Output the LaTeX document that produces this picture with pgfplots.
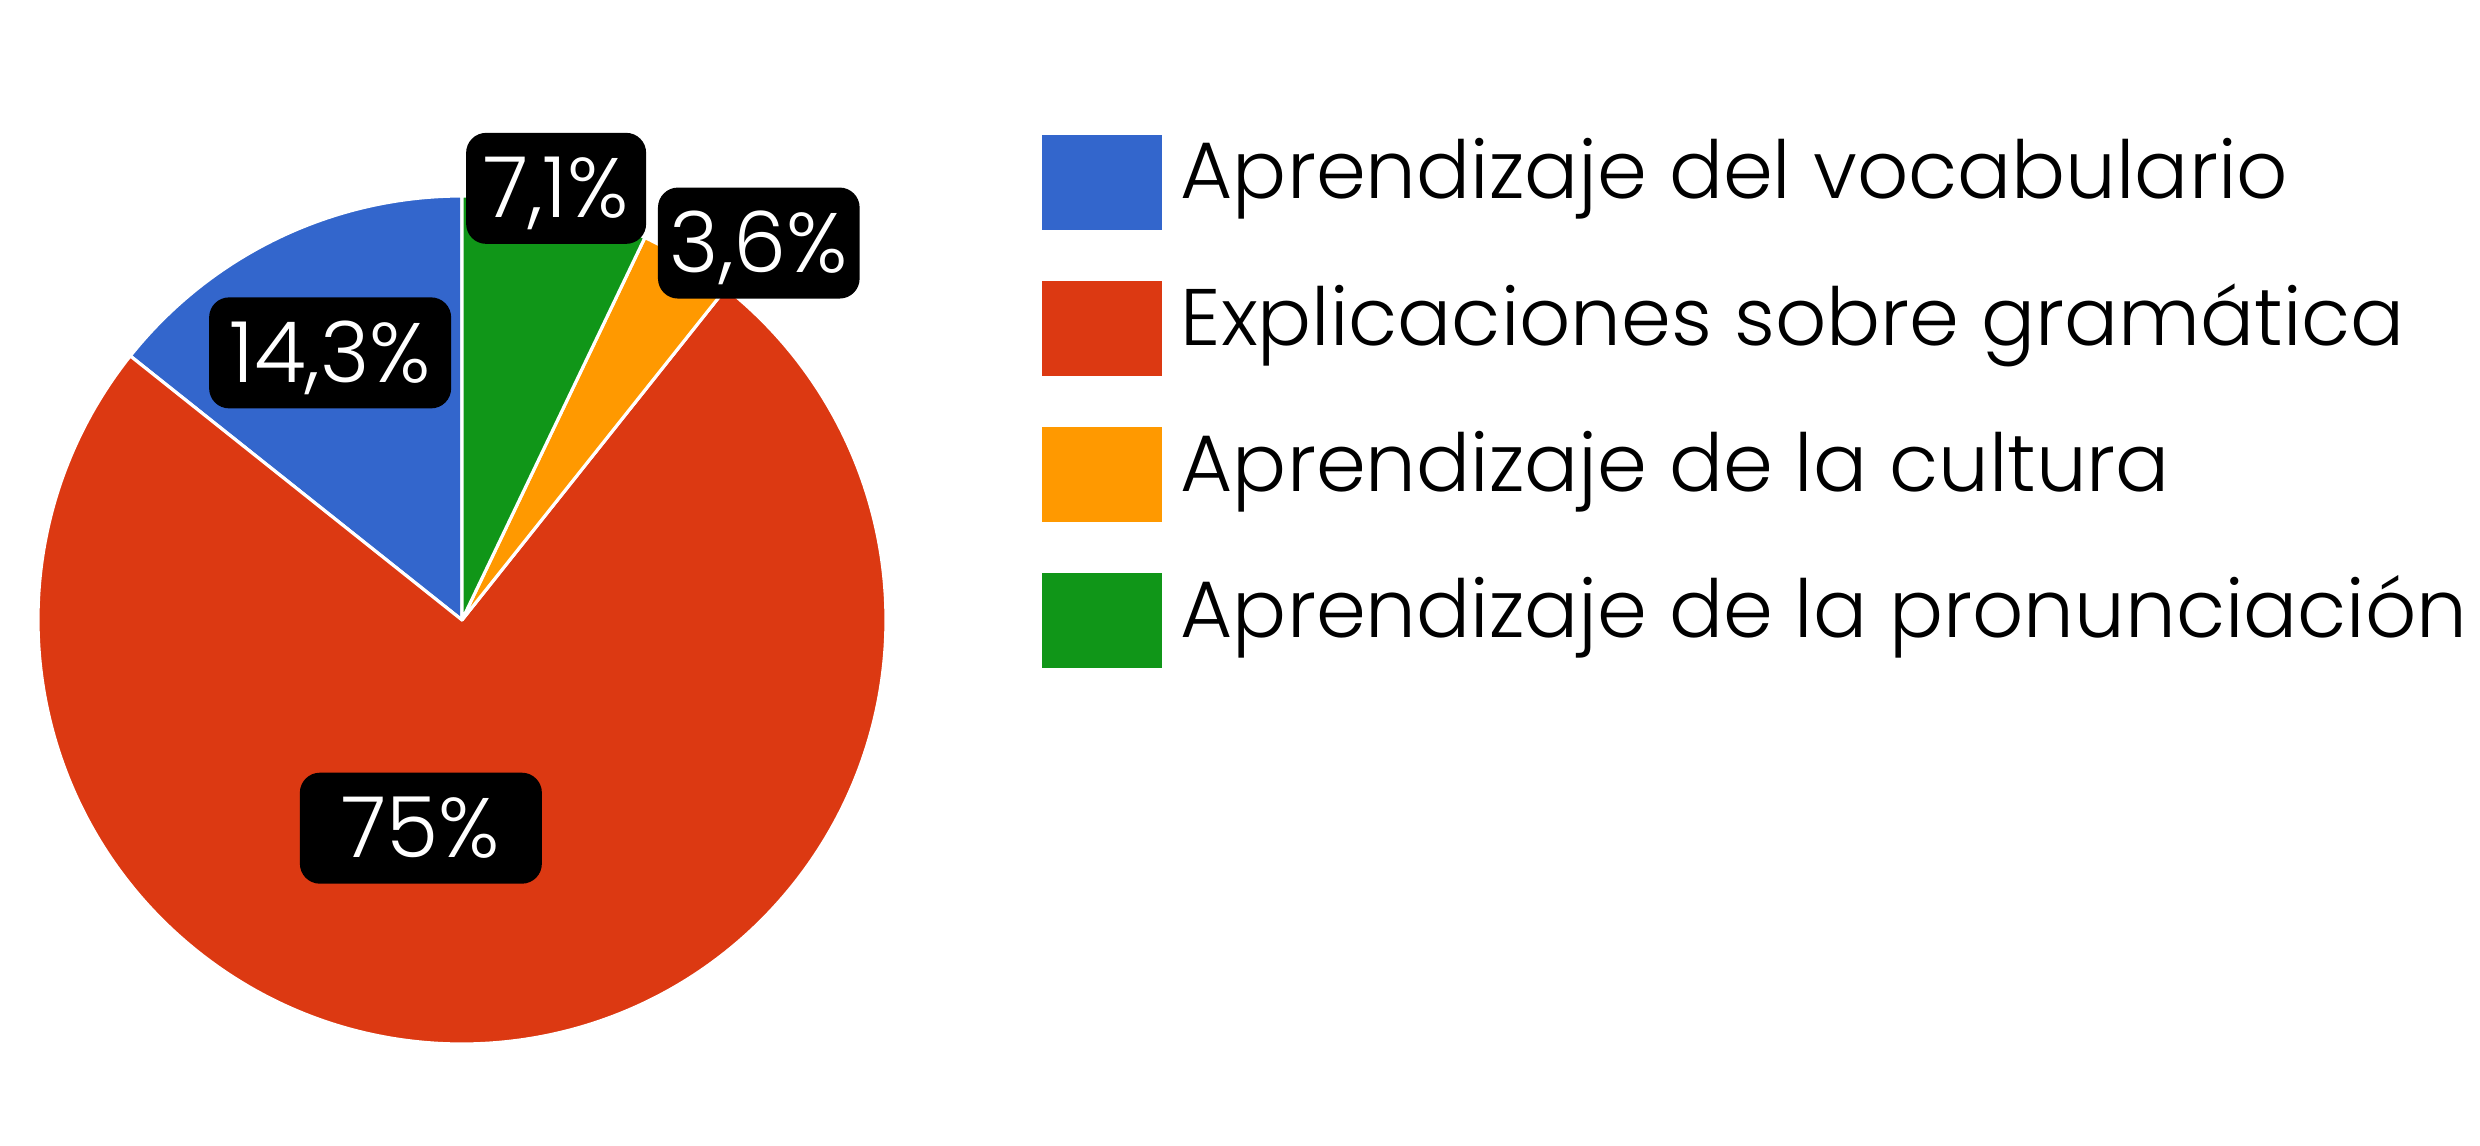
\documentclass[border=0pt]{standalone}
\usepackage{fontspec}
\setmainfont{Poppins}[UprightFont=* Light]
\usepackage{pgfplots}
\usepackage{pgfplotstable}
\pgfplotsset{compat=1.18}

\definecolor{slice0}{HTML}{3366CC}
\definecolor{slice1}{HTML}{DC3912}
\definecolor{slice2}{HTML}{FF9900}
\definecolor{slice3}{HTML}{109618}

\tikzset{lbl/.style={fill=black, text=white, rounded corners=0.2cm,
    minimum height=1.11cm, text height=0.59cm, text depth=0pt,
    font=\fontsize{24pt}{29pt}\selectfont}}

% share (%), label position (axis units), label box width (cm)
\pgfplotstableread{
share lx     ly     bw
14.3  -0.311 0.630  2.42
75    -0.097 -0.491 2.42
3.6   0.700  0.889  1.80
7.1   0.222  1.018  1.80
}\piedata

\begin{document}
\begin{tikzpicture}
\useasboundingbox (0,0) rectangle (24.8,11.45);
\begin{axis}[
    hide axis,
    x=4.24cm, y=4.24cm,
    xmin=-1.2, xmax=1.2, ymin=-1.2, ymax=1.2,
    anchor=center, at={(4.62cm,5.25cm)},
    clip=false,
    /pgf/number format/assume math mode=true,
]
\def\angstart{90}
\pgfplotsforeachungrouped \i in {0,...,3}{%
    \pgfplotstablegetelem{\i}{share}\of\piedata \let\share\pgfplotsretval
    \pgfmathsetmacro\angend{\angstart+3.6*\share}
    \edef\temp{\noexpand\fill[slice\i, draw=white, line width=0.9pt, line join=round]
        (axis cs:0,0) -- (axis cs:{cos(\angstart)},{sin(\angstart)})
        arc[start angle=\angstart, end angle=\angend, radius=4.24cm] -- cycle;}%
    \temp
    \let\angstart\angend
}
\pgfplotsforeachungrouped \i in {0,...,3}{%
    \pgfplotstablegetelem{\i}{share}\of\piedata \let\share\pgfplotsretval
    \pgfplotstablegetelem{\i}{lx}\of\piedata \let\lx\pgfplotsretval
    \pgfplotstablegetelem{\i}{ly}\of\piedata \let\ly\pgfplotsretval
    \pgfplotstablegetelem{\i}{bw}\of\piedata \let\bw\pgfplotsretval
    \edef\temp{\noexpand\node[lbl, minimum width=\bw cm] at (axis cs:\lx,\ly)
        {\noexpand\pgfmathprintnumber[use comma]{\share}\noexpand\%};}%
    \temp
}
\end{axis}

% legend
\foreach \name [count=\k from 0] in {Aprendizaje del vocabulario,
    Explicaciones sobre gramática, Aprendizaje de la cultura,
    Aprendizaje de la pronunciación}{
    \pgfmathsetmacro\ytop{10.10-1.46*\k}
    \fill[slice\k] (10.42,\ytop) rectangle (11.62,\ytop-0.95);
    \node[anchor=base west, inner sep=0pt, font=\fontsize{22.8pt}{27pt}\selectfont]
        at (11.80,\ytop-0.64) {\name};
}
\end{tikzpicture}
\end{document}
